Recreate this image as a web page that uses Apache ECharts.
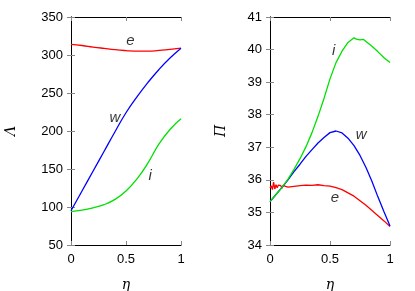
<!DOCTYPE html>
<html><head><meta charset="utf-8">
<script src="https://cdn.jsdelivr.net/npm/echarts@6/dist/echarts.min.js"></script>
<style>html,body{margin:0;padding:0;background:#fff}#c{width:415px;height:291px}</style>
</head><body><div id="c"></div>
<script>
// Left panel: Lambda vs eta
const etaL = [0,0.1,0.2,0.3,0.4,0.5,0.6,0.7,0.8,0.9,1];
const lamE = [314,312.5,310.5,308.7,307,305.8,305,305,306,307.5,309];
const lamW = [95,121,147,173,199,224,245,264,281,296,309];
const lamI = [94,96,99,103,110,121,137,158,183,202,216];
// Right panel: Pi vs eta
const etaR = [0,0.05,0.1,0.15,0.2,0.25,0.3,0.35,0.4,0.45,0.5,0.55,0.6,0.65,0.7,0.75,0.8,0.85,0.9,0.95,1];
const piW = [35.33,35.55,35.77,36.0,36.25,36.48,36.72,36.93,37.13,37.3,37.45,37.5,37.44,37.28,37.05,36.75,36.38,35.95,35.47,35.02,34.58];
const etaRI = [0,0.05,0.1,0.15,0.2,0.25,0.3,0.35,0.4,0.45,0.5,0.55,0.6,0.65,0.7,0.72,0.75,0.78,0.8,0.85,0.9,0.95,1];
const piI = [35.33,35.55,35.77,36.02,36.32,36.65,37.02,37.45,37.95,38.5,39.1,39.6,39.95,40.22,40.36,40.32,40.3,40.31,40.25,40.1,39.93,39.75,39.6];
const etaRE = [0,0.01,0.02,0.03,0.04,0.05,0.06,0.07,0.08,0.09,0.1,0.11,0.12,0.13,0.15,0.2,0.25,0.3,0.35,0.4,0.45,0.5,0.55,0.6,0.65,0.7,0.75,0.8,0.85,0.9,0.95,1];
const piE = [35.75,35.82,35.7,35.93,35.72,35.85,35.76,35.84,35.78,35.82,35.74,35.83,35.77,35.8,35.78,35.8,35.82,35.84,35.83,35.85,35.82,35.81,35.76,35.7,35.6,35.5,35.36,35.22,35.06,34.9,34.74,34.57];
// Curve labels
const labNames = ['e','w','i'];
const labL = [[0.54,318.7],[0.40,217.7],[0.72,140.6]];
const labR = [[0.54,35.46],[0.76,37.37],[0.53,39.96]];
const xTicks = ['0','0.5','1'];

const zip = (xs, ys) => xs.map((x,k)=>[x,ys[k]]);
const FONT = '"Liberation Sans", Arial, sans-serif';
const tick = {show:true, inside:true, length:4, lineStyle:{color:'#888'}};
const line = {show:true, lineStyle:{color:'#000', width:1}};
function xAx(g, main){
  return {gridIndex:g, type:'value', min:0, max:1, interval:0.5,
    position: main?'bottom':'top',
    axisLine:line, axisTick:tick, splitLine:{show:false},
    axisLabel:{show:main, fontFamily:FONT, fontSize:13, color:'#000', margin:8,
      formatter:v=>xTicks[Math.round(v*2)]},
    name: main?'η':'', nameLocation:'middle', nameGap:33,
    nameTextStyle:{fontFamily:'"DejaVu Serif", serif', fontStyle:'italic', fontSize:14, color:'#000'}};
}
function yAx(g, main, min, max, itv, nm, gap){
  return {gridIndex:g, type:'value', min:min, max:max, interval:itv,
    position: main?'left':'right',
    axisLine:line, axisTick:tick, splitLine:{show:false},
    axisLabel:{show:main, fontFamily:FONT, fontSize:13, color:'#000', margin:8},
    name: main?nm:'', nameLocation:'middle', nameGap:gap, nameRotate:90,
    nameTextStyle:{fontFamily:'"DejaVu Serif", serif', fontStyle:'italic', fontSize:14, color:'#000'}};
}
function ser(xi, yi, data, color, smooth){
  return {type:'line', xAxisIndex:xi, yAxisIndex:yi, data:data, showSymbol:false, symbol:'none',
    smooth:smooth, lineStyle:{color:color, width:1.3}, animation:false};
}
function labs(xi, yi, pts){
  return {type:'scatter', xAxisIndex:xi, yAxisIndex:yi, symbolSize:0, animation:false,
    data: pts.map((p,k)=>({value:p, name:labNames[k]})),
    label:{show:true, position:'inside', formatter:p=>p.name, fontFamily:FONT, fontStyle:'italic', fontSize:15, color:'#000'}};
}
const chart = echarts.init(document.getElementById('c'));
chart.setOption({
  animation:false,
  grid:[
    {left:71, right:234, top:17, bottom:46, containLabel:false, outerBoundsMode:'none'},
    {left:270, right:25, top:17, bottom:46, containLabel:false, outerBoundsMode:'none'}
  ],
  xAxis:[xAx(0,true), xAx(1,true), xAx(0,false), xAx(1,false)],
  yAxis:[yAx(0,true,50,350,50,'Λ',53), yAx(1,true,34,41,1,'Π',42), yAx(0,false,50,350,50,'',0), yAx(1,false,34,41,1,'',0)],
  series:[
    ser(0,0,zip(etaL,lamE),'#ff0000',true),
    ser(0,0,zip(etaL,lamW),'#0000ff',true),
    ser(0,0,zip(etaL,lamI),'#00e000',true),
    ser(1,1,zip(etaRE,piE),'#ff0000',false),
    ser(1,1,zip(etaR,piW),'#0000ff',false),
    ser(1,1,zip(etaRI,piI),'#00e000',false),
    labs(0,0,labL),
    labs(1,1,labR)
  ]
});
</script></body></html>
